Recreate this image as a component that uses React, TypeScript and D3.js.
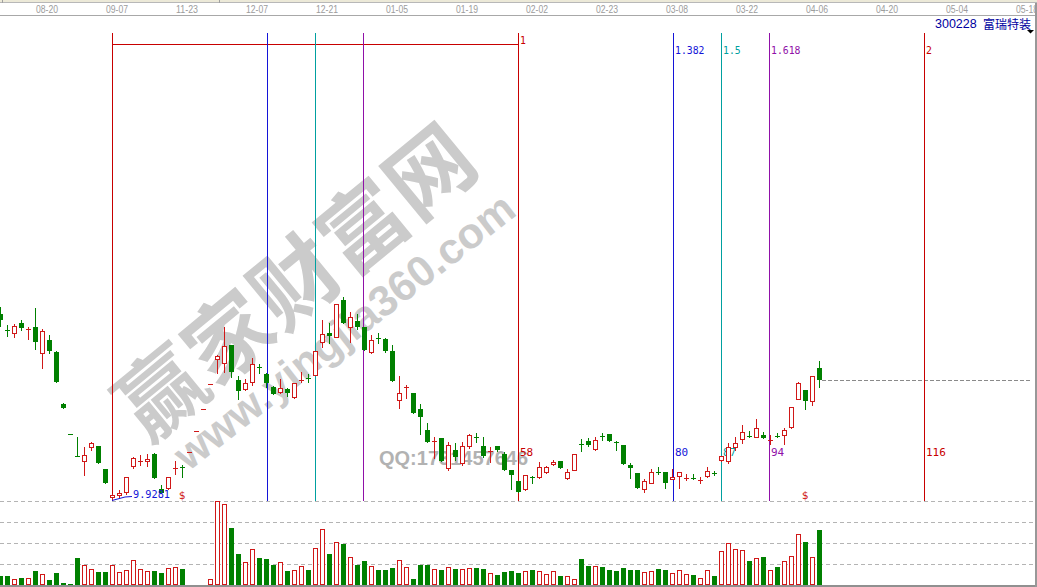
import React from 'react';
import * as d3 from 'd3';

// ---------- data ----------
const dateLabels = ["08-20","09-07","11-23","12-07","12-21","01-05","01-19","02-02","02-23","03-08","03-22","04-06","04-20","05-04","05-18"];
const dateIndex = [5,15,25,35,45,55,65,75,85,95,105,115,125,135,145];

const opens = [
 14.58, 14.18, 14.105, 14.355, 14.18, 14.255, 13.605, 13.93, 13.63, 12.33,
 11.58, 11.03, 10.905, 11.255, 11.28, 10.705, 10.005, 10.055, 10.13, 10.78,
 10.88, 10.905, 11.08, 10.205, 10.23, 10.705, 10.755, 11.13, 11.655, 12.205,
 12.83, 13.455, 13.355, 13.805, 12.93, 12.705, 12.88, 13.255, 13.08, 12.755,
 12.63, 12.705, 12.505, 12.905, 12.98, 13.055, 13.88, 14.105, 14.005, 14.93,
 14.255, 14.405, 14.255, 13.63, 13.98, 13.955, 13.655, 12.43, 12.73, 12.605,
 12.205, 11.68, 11.38, 11.48, 10.73, 11.18, 10.855, 11.28, 11.505, 11.28,
 11.13, 11.28, 11.08, 10.68, 10.405, 10.205, 10.505, 10.505, 10.63, 10.83,
 10.905, 10.48, 10.68, 11.33, 11.405, 11.205, 11.53, 11.58, 11.38, 11.305,
 10.805, 10.605, 10.205, 10.355, 10.63, 10.63, 10.455, 10.53, 10.455, 10.48,
 10.405, 10.53, 10.605, 10.93, 10.905, 11.255, 11.455, 11.53, 11.505, 11.555,
 11.405, 11.53, 11.555, 11.755, 12.455, 12.68, 12.405, 13.23];

const closes = [
 14.43, 14.155, 14.28, 14.23, 14.205, 13.88, 14.155, 13.655, 12.88, 12.23,
 11.58, 11.03, 11.055, 11.355, 10.855, 10.355, 10.055, 10.105, 10.505, 10.98,
 10.905, 10.955, 10.48, 10.105, 10.505, 10.73, 10.73, 11.13, 11.655, 12.205,
 12.83, 13.53, 13.78, 13.13, 12.655, 12.855, 13.33, 13.23, 12.855, 12.58,
 12.73, 12.605, 12.855, 12.93, 12.955, 13.655, 14.08, 14.03, 14.83, 14.355,
 14.505, 14.255, 13.68, 13.93, 13.955, 13.655, 12.905, 12.605, 12.755, 12.105,
 12.005, 11.38, 11.405, 10.905, 11.305, 11.005, 11.28, 11.555, 11.48, 11.03,
 11.155, 11.18, 10.68, 10.555, 10.13, 10.555, 10.48, 10.755, 10.755, 10.88,
 10.73, 10.63, 11.08, 11.305, 11.305, 11.43, 11.505, 11.405, 11.355, 10.83,
 10.73, 10.23, 10.405, 10.63, 10.605, 10.355, 10.505, 10.63, 10.48, 10.455,
 10.43, 10.655, 10.58, 11.03, 11.255, 11.355, 11.63, 11.505, 11.73, 11.48,
 11.43, 11.505, 11.68, 12.255, 12.855, 12.405, 13.03, 12.93];

const highs = [
 14.755, 14.305, 14.33, 14.43, 14.255, 14.73, 14.205, 14.055, 13.655, 12.355,
 11.58, 11.505, 11.255, 11.38, 11.28, 10.705, 10.08, 10.18, 10.505, 11.005,
 11.055, 11.08, 11.105, 10.305, 10.505, 10.905, 10.805, 11.13, 11.655, 12.205,
 12.83, 13.555, 14.255, 13.805, 13.03, 12.955, 13.48, 13.33, 13.105, 12.78,
 12.955, 12.73, 12.855, 13.13, 13.08, 13.655, 14.43, 14.355, 14.83, 15.005,
 14.63, 14.58, 14.255, 14.055, 14.105, 13.98, 13.805, 13.03, 12.805, 12.605,
 12.33, 11.855, 11.505, 11.48, 11.38, 11.355, 11.38, 11.58, 11.605, 11.505,
 11.255, 11.28, 11.13, 10.68, 10.405, 10.555, 10.53, 10.88, 10.78, 10.93,
 10.905, 10.705, 11.08, 11.455, 11.48, 11.505, 11.605, 11.58, 11.405, 11.305,
 10.855, 10.605, 10.455, 10.705, 10.755, 10.63, 10.705, 10.63, 10.58, 10.58,
 10.505, 10.755, 10.655, 11.03, 11.355, 11.505, 11.805, 11.655, 11.955, 11.63,
 11.555, 11.605, 11.73, 12.255, 12.88, 12.68, 13.03, 13.405];

const lows = [
 14.28, 14.03, 14.005, 14.18, 13.955, 13.705, 13.23, 13.605, 12.88, 12.23,
 11.58, 11.03, 10.555, 11.18, 10.855, 10.355, 9.9281, 10.005, 10.08, 10.73,
 10.805, 10.78, 10.48, 10.105, 10.205, 10.58, 10.505, 11.13, 11.655, 12.205,
 12.83, 13.105, 13.13, 13.005, 12.455, 12.68, 12.805, 13.105, 12.755, 12.58,
 12.605, 12.53, 12.48, 12.88, 12.88, 13.055, 13.755, 13.855, 14.005, 14.355,
 13.88, 14.205, 13.68, 13.605, 13.855, 13.63, 12.905, 12.23, 12.48, 12.105,
 11.58, 11.38, 10.98, 10.905, 10.68, 10.93, 10.805, 11.23, 11.38, 11.005,
 10.88, 11.155, 10.68, 10.205, 10.13, 10.18, 10.355, 10.48, 10.605, 10.805,
 10.73, 10.455, 10.68, 11.155, 11.28, 11.18, 11.43, 11.405, 11.18, 10.83,
 10.48, 10.23, 10.13, 10.355, 10.58, 10.23, 10.455, 10.23, 10.43, 10.455,
 10.355, 10.505, 10.555, 10.905, 10.855, 11.18, 11.355, 11.505, 11.505, 11.48,
 11.33, 11.505, 11.33, 11.73, 12.455, 12.205, 12.305, 12.755];

// volume, thousand lots
const volumes = [
 9.3, 9.3, 5.7, 7.3, 6.7, 14, 10.7, 5, 12.3, 2,
 1, 27.3, 20, 16, 13.3, 13.3, 20, 12.7, 14.7, 24.7,
 16, 14, 14, 12, 17, 18, 16, 0, 0, 0,
 5.7, 84, 80.7, 57.3, 31, 22.7, 35.7, 27, 26, 20,
 22.7, 14, 14.7, 18.7, 15, 36.7, 55.7, 31, 43.3, 41,
 27.7, 20, 24, 18.7, 15, 15, 17, 24.7, 18, 6,
 20, 20, 16, 14.7, 18, 16, 16, 17, 17, 16,
 11.7, 10, 13, 14, 12, 13.7, 15, 13.7, 10.7, 13.7,
 9, 8.7, 5.7, 26, 19, 18.7, 18, 15, 14, 17,
 15, 15, 12.7, 13.7, 16, 15, 11.7, 14.7, 10.7, 10,
 6.7, 14.7, 9, 33.7, 41.7, 35.7, 34.7, 24, 26.7, 28,
 14.7, 18, 23.7, 28.7, 50.7, 43, 28, 55];

const volumeTicks = [21, 42, 63, 84];

const fibStart = 16;
const fibSpan = 58;
const fibRatios = [0.382, 0.5, 0.618, 1, 1.382, 1.5, 1.618, 2];
const fibLabels = ["", "", "", "1", "1.382", "1.5", "1.618", "2"];
const fibColors = ["#1414d8", "#00a0a0", "#9010a8", "#c80000", "#1414d8", "#00a0a0", "#9010a8", "#c80000"];

const lowLabel = "9.9281";
const dollarIdx = [26, 115];
const stockCode = "300228";
const stockName = "富瑞特装";

const RED = "#d01818";
const GREEN = "#008000";

export default function App() {
  const W = 1037, H = 587;
  const x = d3.scaleLinear().domain([0, 148]).range([0, 1036]);
  const yP = d3.scaleLinear().domain([9.93, 22.43]).range([500, 0]);
  const yV = d3.scaleLinear().domain([0, 84]).range([585, 501]);

  const candles = opens.map((o, i) => {
    const c = closes[i], h = highs[i], l = lows[i];
    const up = c > o || (c === o && i > 0 && c >= closes[i - 1]);
    const cx = Math.round(x(i));
    const yo = Math.round(yP(o)), yc = Math.round(yP(c));
    const yh = Math.round(yP(h)), yl = Math.round(yP(l));
    const top = Math.min(yo, yc), bot = Math.max(yo, yc);
    const col = up ? RED : GREEN;
    const parts: any[] = [];
    if (yl > yh) parts.push(<line key="w" x1={cx + 0.5} x2={cx + 0.5} y1={yh} y2={yl + 1} stroke={col} strokeWidth={1} />);
    if (up) {
      if (bot - top < 2) {
        parts.push(<line key="b" x1={cx - 2} x2={cx + 3} y1={top + 0.5} y2={top + 0.5} stroke={col} strokeWidth={1} />);
      } else {
        parts.push(<rect key="b" x={cx - 1.5} y={top + 0.5} width={4} height={bot - top} fill="#fff" stroke={col} strokeWidth={1} />);
      }
    } else {
      parts.push(<rect key="b" x={cx - 2} y={top} width={5} height={Math.max(1, bot - top)} fill={col} />);
    }
    return <g key={i}>{parts}</g>;
  });

  const vols = volumes.map((v, i) => {
    if (v <= 0) return null;
    const o = opens[i], c = closes[i];
    const up = c > o || (c === o && i > 0 && c >= closes[i - 1]);
    const cx = Math.round(x(i));
    const yt = Math.round(yV(v));
    const base = Math.round(yV(0));
    if (up) {
      return <rect key={i} x={cx - 1.5} y={yt + 0.5} width={4} height={Math.max(0, base - yt - 1)} fill="#fff" stroke={RED} strokeWidth={1} />;
    }
    return <rect key={i} x={cx - 2} y={yt} width={5} height={base - yt} fill={GREEN} />;
  });

  const xs = Math.round(x(fibStart));
  const xe = Math.round(x(fibStart + fibSpan));
  const lastY = Math.round(yP(closes[closes.length - 1])) + 0.5;
  const lastX = Math.round(x(closes.length - 1)) + 3;

  const mono = "'DejaVu Sans Mono', 'Liberation Mono', monospace";

  return (
    <svg width={W} height={H} style={{ position: 'absolute', left: 0, top: 0, background: '#fff', display: 'block' }}
      fontFamily="'Liberation Sans', Arial, sans-serif">
      <rect x={0} y={0} width={W} height={H} fill="#fff" />

      {/* top scroll band and date axis */}
      <rect x={0} y={0} width={W} height={2.5} fill="#ece9d8" />
      <line x1={0} x2={W} y1={2.5} y2={2.5} stroke="#b8b8b8" />
      <line x1={2.5} x2={2.5} y1={0} y2={3} stroke="#a0a0a0" />
      <line x1={219.5} x2={219.5} y1={0} y2={3} stroke="#a0a0a0" />
      <line x1={0} x2={W} y1={15.5} y2={15.5} stroke="#a8a8a8" />
      {dateLabels.map((d, k) => (
        <text key={d} x={x(dateIndex[k]) + 1} y={13} fontSize={10} fill="#9c9c9c" textLength={22} lengthAdjust="spacingAndGlyphs">{d}</text>
      ))}

      {/* watermark */}
      <g fill="#cbcbcb">
        <text transform="translate(292,277) rotate(-39.5)" textAnchor="middle" dominantBaseline="central"
          fontSize={86} fontWeight="bold" letterSpacing={1} fontFamily="'Noto Sans CJK SC', sans-serif">赢家财富网</text>
        <text transform="translate(344,331) rotate(-38)" textAnchor="middle" dominantBaseline="central"
          fontSize={43} fontWeight="bold">www.yingjia360.com</text>
      </g>
      <text x={379} y={465} fontSize={20} fontWeight="bold" fill="#b2b2b2">QQ:1731457646</text>

      {/* title */}
      <text x={935} y={28} fontSize={12.5} fill="#0000a0">{stockCode}</text>
      <text x={983} y={28.5} fontSize={12} fill="#0000a0" fontFamily="'Noto Sans CJK SC', sans-serif">{stockName}</text>
      <path d="M1027,30 L1034,30 L1030.5,33.5 Z" fill="#000" />

      {/* grid / dashed lines */}
      {volumeTicks.map(t => (
        <line key={t} x1={0} x2={1033} y1={Math.round(yV(t)) + 0.5} y2={Math.round(yV(t)) + 0.5}
          stroke="#b4b4b4" strokeDasharray="4,3" />
      ))}
      <line x1={lastX} x2={1032} y1={lastY} y2={lastY} stroke="#8a8a8a" strokeDasharray="4,2" />

      {/* fibonacci time lines */}
      <g>
        <line x1={xs + 0.5} x2={xs + 0.5} y1={33} y2={501} stroke="#c80000" />
        <line x1={xs} x2={xe + 1} y1={44.5} y2={44.5} stroke="#c80000" />
        {fibRatios.map((r, k) => {
          const fx = Math.round(x(fibStart + fibSpan * r)) + 0.5;
          return <line key={r} x1={fx} x2={fx} y1={33} y2={501} stroke={fibColors[k]} strokeWidth={1} />;
        })}
      </g>
      {fibRatios.map((r, k) => {
        if (r < 1) return null;
        const fx = Math.round(x(fibStart + fibSpan * r));
        const label = fibLabels[k];
        return (
          <g key={r} fill={fibColors[k]} fontFamily={mono} fontSize={11}>
            <text x={fx + 2} y={r === 1 ? 43.5 : 53.5} textLength={label.length * 5.9} lengthAdjust="spacingAndGlyphs">{label}</text>
            <text x={fx + 2} y={456}>{String(Math.round(fibSpan * r))}</text>
          </g>
        );
      })}

      {/* candles */}
      <g shapeRendering="crispEdges">{candles}</g>

      {/* low annotation */}
      <polyline points={`${xs},500.5 ${xs + 13},497 ${xs + 20},496.5`} fill="none" stroke="#1414d8" />
      <text x={xs + 21} y={498} fontSize={11} fill="#1414d8" fontFamily={mono} textLength={37} lengthAdjust="spacingAndGlyphs">{lowLabel}</text>
      {dollarIdx.map(i => (
        <text key={i} x={x(i)} y={499} fontSize={11} fill={RED} textAnchor="middle" fontFamily={mono}>$</text>
      ))}

      {/* volume */}
      <g shapeRendering="crispEdges">{vols}</g>

      {/* frame */}
      <rect x={0} y={585} width={W} height={2} fill="#909090" />
      <rect x={1035} y={3} width={2} height={584} fill="#989898" />
    </svg>
  );
}
